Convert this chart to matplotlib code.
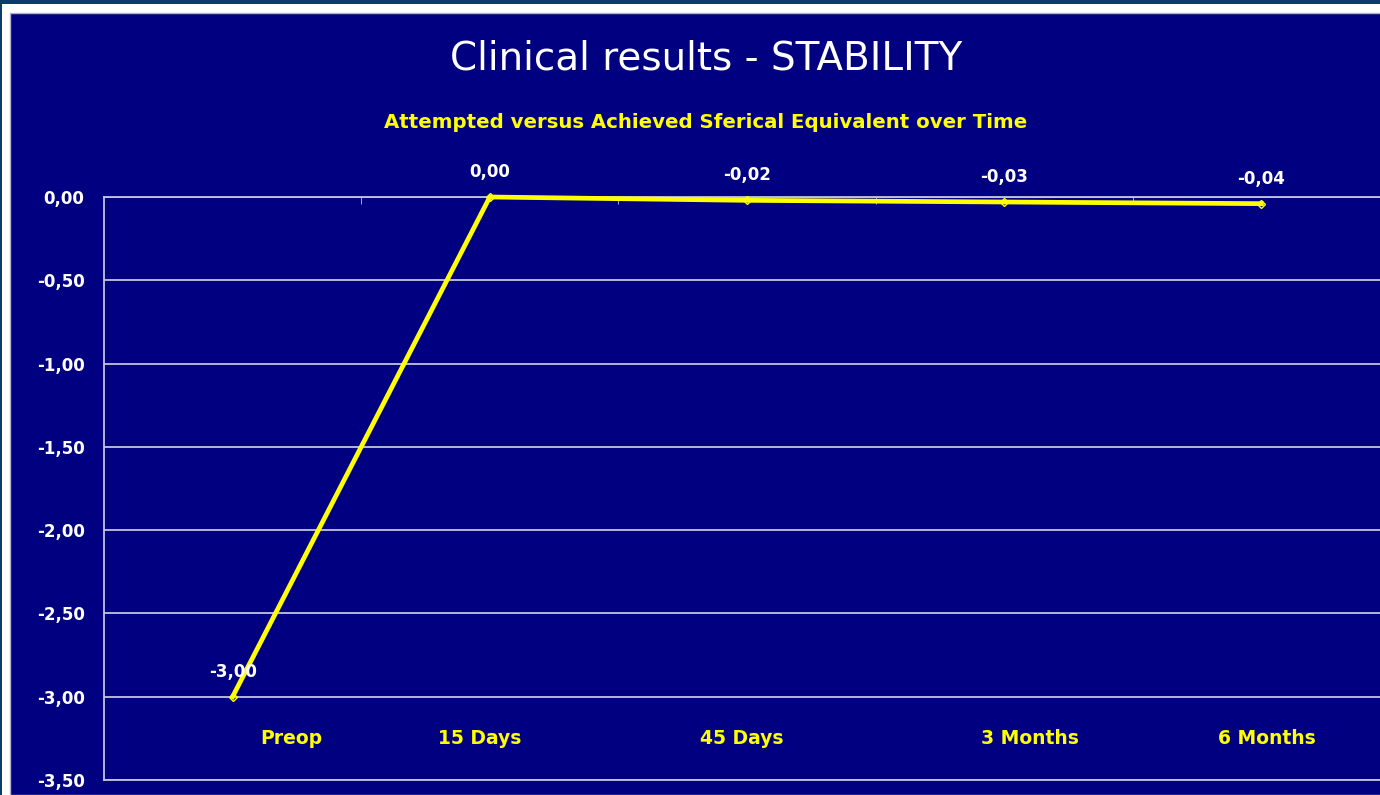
import matplotlib.pyplot as plt
from matplotlib.patches import Rectangle

# stability of spherical equivalent over follow-up
periods = ['Preop', '15 Days', '45 Days', '3 Months', '6 Months']
sph_equiv = [-3.00, 0.00, -0.02, -0.03, -0.04]
y_ticks = [0.0, -0.5, -1.0, -1.5, -2.0, -2.5, -3.0, -3.5]

# horizontal shift of the period captions relative to each point
caption_shift = [0.23, -0.04, -0.02, 0.10, 0.02]

navy = '#000080'
grid_col = '#c4c4dc'
yellow = '#ffff00'

plt.rcParams['font.family'] = ['DejaVu Sans']

fig = plt.figure(figsize=(13.8, 7.95), dpi=100)
fig.patch.set_facecolor('white')

# outer frame: dark strip on top, navy panel
fig.patches.append(Rectangle((0, 1 - 4 / 795), 1, 4 / 795, transform=fig.transFigure,
                             facecolor='#0b3a6b', edgecolor='none', zorder=-2))
fig.patches.append(Rectangle((0, 0), 2 / 1380, 1, transform=fig.transFigure,
                             facecolor='#0b3a6b', edgecolor='none', zorder=-2))
fig.patches.append(Rectangle((10 / 1380, 0), 1, 1 - 13 / 795, transform=fig.transFigure,
                             facecolor=navy, edgecolor='#b0b0d0', linewidth=1, zorder=-2))

ax = fig.add_axes([104 / 1380, 15 / 795, 1286 / 1380, 583 / 795])
ax.set_facecolor(navy)

x = list(range(len(periods)))
ax.plot(x, sph_equiv, color=yellow, linewidth=3.4, marker='D', markersize=4.5,
        markerfacecolor='none', markeredgecolor=yellow, markeredgewidth=1, zorder=3,
        clip_on=False)

for xi, v in zip(x, sph_equiv):
    ax.annotate(f'{v:.2f}'.replace('.', ','), (xi, v), xytext=(0, 18),
                textcoords='offset points', ha='center', va='center',
                color='white', fontsize=12, fontweight='bold')

for xi, name, dx in zip(x, periods, caption_shift):
    ax.text(xi + dx, -3.25, name, ha='center', va='center', color=yellow,
            fontsize=13.5, fontweight='bold')

ax.set_xlim(-0.5, 4.5)
ax.set_ylim(-3.5, 0)
ax.set_yticks(y_ticks)
ax.set_yticklabels([f'{t:.2f}'.replace('.', ',') for t in y_ticks],
                   color='white', fontsize=12, fontweight='bold')
ax.tick_params(axis='y', length=0, pad=14)

ax.set_xticks([])
ax.set_xticks([0.5, 1.5, 2.5, 3.5], minor=True)
ax.tick_params(axis='x', which='minor', top=True, bottom=False, direction='in',
               length=5, color=grid_col, labeltop=False, labelbottom=False)

ax.yaxis.grid(True, color=grid_col, linewidth=1.3)
ax.set_axisbelow(True)
for side in ['left', 'top', 'bottom', 'right']:
    ax.spines[side].set_color(grid_col)
    ax.spines[side].set_linewidth(1.3)

fig.text(706 / 1380, 1 - 58 / 795, 'Clinical results - STABILITY', ha='center',
         va='center', color='white', fontsize=28)
fig.text(706 / 1380, 1 - 122 / 795,
         'Attempted versus Achieved Sferical Equivalent over Time',
         ha='center', va='center', color=yellow, fontsize=14.2, fontweight='bold')

fig.savefig('out.png', dpi=100, facecolor=fig.get_facecolor())
